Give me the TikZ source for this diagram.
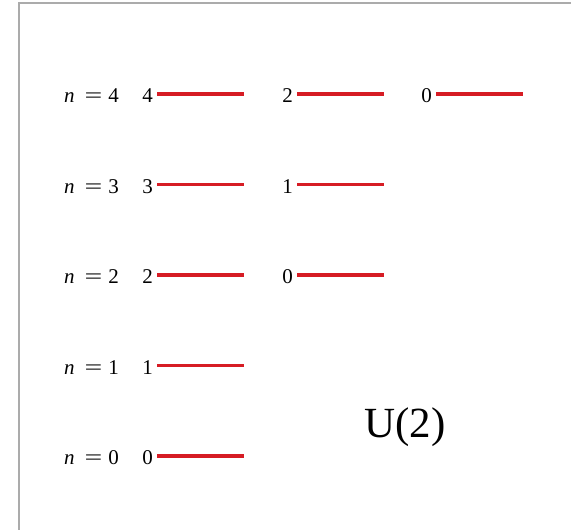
\documentclass[tikz,border=0pt]{standalone}
\usepackage{graphicx}
\usepackage{fontspec}
\setmainfont{Liberation Serif}
\definecolor{levelred}{RGB}{214,28,36}
\tikzset{
  level/.style={levelred, line width=3.6pt},
  lnum/.style={anchor=east, inner sep=4pt, font=\fontsize{21}{25}\selectfont},
  nlabel/.style={anchor=east, inner sep=0pt, font=\fontsize{21}{25}\selectfont},
  frame/.style={black!33, line width=1.5pt}
}
\begin{document}
\begin{tikzpicture}[x=1pt, y=-1pt]

    %% =========================================================
    %% canvas 571 x 530, y runs downward
    %% rows: n = 0 at y = 456, spacing 90.5
    %% columns of levels start at x = 157, 297, 436
    %% =========================================================
    \useasboundingbox (0,0) rectangle (571,530);
    \draw[frame] (19,540) -- (19,3) -- (580,3);

    %% n LABELS
    \foreach \n in {0,...,4}{
      \pgfmathsetmacro\y{456-90.5*\n}
      \node[nlabel] (n\n) at (119,\y+2)
        {\textit{n}\hspace{10pt}\scalebox{1.5}[1]{=}\hspace{6pt}\n};
    }

    %% LEVELS
    \foreach \n/\l/\x in {4/4/157, 4/2/297, 4/0/436,
                          3/3/157, 3/1/297,
                          2/2/157, 2/0/297,
                          1/1/157,
                          0/0/157}{
      \pgfmathsetmacro\y{456-90.5*\n}
      \draw[level] (\x,\y) -- ++(87,0);
      \node[lnum] (l\n\l) at (\x,\y+2) {\l};
    }

    \node[font=\fontsize{43}{48}\selectfont] (group) at (405,427) {U(2)};

\end{tikzpicture}
\end{document}
